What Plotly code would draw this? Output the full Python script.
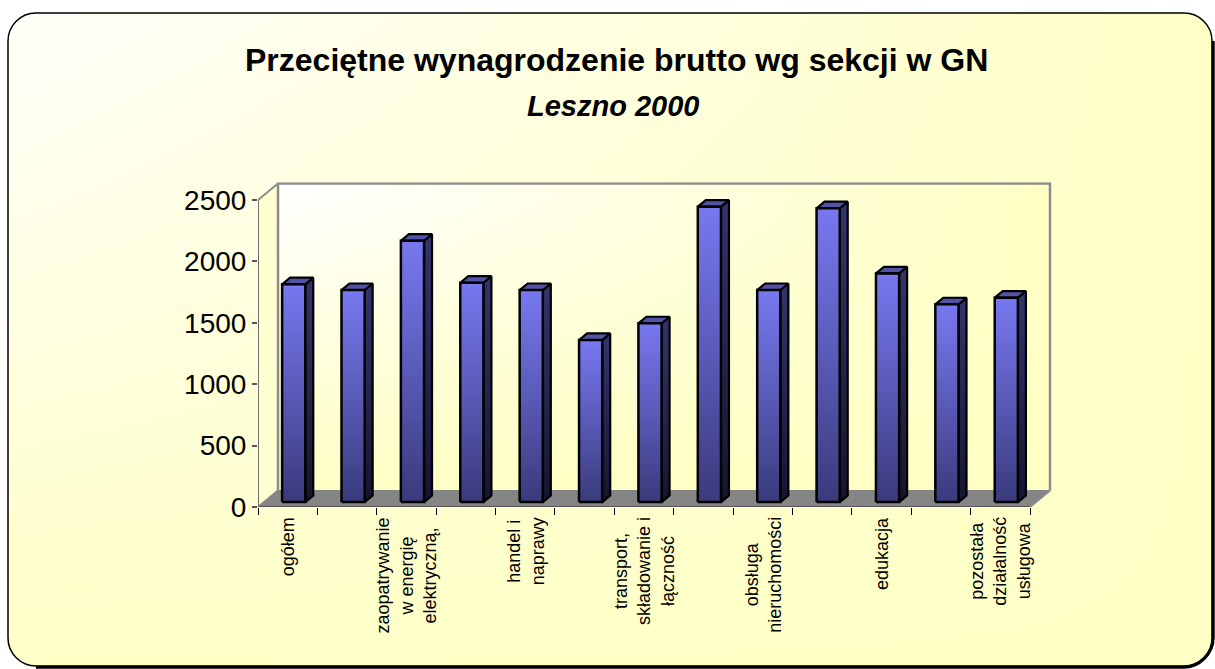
import plotly.graph_objects as go

# ---------------- data ----------------
categories = [
    "ogółem",
    "przetwórstwo przemysłowe",
    "zaopatrywanie w energię elektryczną,",
    "budownictwo",
    "handel i naprawy",
    "hotele i restauracje",
    "transport, składowanie i łączność",
    "pośrednictwo finansowe",
    "obsługa nieruchomości",
    "administracja publiczna",
    "edukacja",
    "ochrona zdrowia",
    "pozostała działalność usługowa",
]
values = [1773, 1726, 2128, 1786, 1726, 1319, 1455, 2405, 1726, 2392, 1862, 1610, 1664]
shown_ticks = [0, 2, 4, 6, 8, 10, 12]
shown_labels = [
    "ogółem",
    "zaopatrywanie<br>w energię<br>elektryczną,",
    "handel i<br>naprawy",
    "transport,<br>składowanie i<br>łączność",
    "obsługa<br>nieruchomości",
    "edukacja",
    "pozostała<br>działalność<br>usługowa",
]
y_ticks = [0, 500, 1000, 1500, 2000, 2500]
title_text = "Przeciętne wynagrodzenie brutto wg sekcji w GN"
subtitle_text = "Leszno 2000"

# ---------------- geometry (styling) ----------------
W, H = 1215, 669          # reference pixel frame
H_RENDER = 685            # capture height observed
FONT = "Liberation Sans, Arial, sans-serif"
n = len(values)
X0PX, PXU = 258.0, 772.0 / 13.0
Y0PX, PYU = 507.0, 307.0 / 2500.0
ddx = 20.0 / PXU
ddy = 16.5 / PYU
xmin, xmax = -0.5, n - 0.5
ymax = 2500

xr_hi = xmax + ddx + 0.05
yr_hi = ymax + ddy + 10
x_dom = [X0PX / W, (X0PX + (xr_hi - xmin) * PXU) / W]
y_dom = [1 - Y0PX / H, 1 - (Y0PX - yr_hi * PYU) / H]

fig = go.Figure()

# background gradient (full chart area)
fig.add_trace(go.Heatmap(
    x=[0, 1], y=[0, 1], z=[[1, 1], [0, 1]], zsmooth="best",
    colorscale=[[0, "#FFFFFA"], [1, "#FFFFC6"]], showscale=False,
    hoverinfo="skip", xaxis="x", yaxis="y"))

# back wall gradient
nx, ny = 80, 40
bx = [xmin + ddx + (xmax - xmin) * k / nx for k in range(nx + 1)]
by = [ddy + ymax * k / ny for k in range(ny + 1)]
bz = []
for j in range(ny):
    v = (j + 0.5) / ny
    row = []
    for i in range(nx):
        u = (i + 0.5) / nx
        row.append(1 - (1 - u) * v)
    bz.append(row)
fig.add_trace(go.Heatmap(
    x=bx, y=by, z=bz, colorscale=[[0, "#FFFFFF"], [1, "#FFFFC4"]],
    showscale=False, hoverinfo="skip", xaxis="x2", yaxis="y2"))

def poly(xs, ys, fill, line_color, lw):
    fig.add_trace(go.Scatter(
        x=xs, y=ys, mode="lines", fill="toself", fillcolor=fill,
        line=dict(color=line_color, width=lw), hoverinfo="skip",
        showlegend=False, xaxis="x2", yaxis="y2"))

def line(xs, ys, color, lw):
    fig.add_trace(go.Scatter(
        x=xs, y=ys, mode="lines", line=dict(color=color, width=lw),
        hoverinfo="skip", showlegend=False, xaxis="x2", yaxis="y2"))

# left wall
poly([xmin, xmin, xmin + ddx, xmin + ddx, xmin],
     [0, ymax, ymax + ddy, ddy, 0], "#FFFFD2", "#8C8C8C", 2)
# floor
poly([xmin, xmax, xmax + ddx, xmin + ddx, xmin],
     [0, 0, ddy, ddy, 0], "#858585", "#858585", 1)
# back wall frame
line([xmin + ddx, xmin + ddx, xmax + ddx, xmax + ddx],
     [ddy, ymax + ddy, ymax + ddy, ddy], "#8C8C8C", 2.5)
line([xmax, xmax + ddx], [0, ddy], "#8C8C8C", 2)

# bars
f0, dd, hw = 0.3, 0.4, 0.195
for i, v in enumerate(values):
    xl = i - hw + f0 * ddx
    xr = i + hw + f0 * ddx
    yb = f0 * ddy
    yt = v + f0 * ddy
    ox, oy = dd * ddx, dd * ddy
    fig.add_trace(go.Scatter(
        x=[xr, xr, xr + ox, xr + ox, xr], y=[yb, yt, yt + oy, yb + oy, yb],
        mode="lines", fill="toself",
        fillgradient=dict(type="vertical",
                          colorscale=[[0, "#15152E"], [1, "#34346E"]]),
        line=dict(color="#000000", width=2.2), hoverinfo="skip",
        showlegend=False, xaxis="x2", yaxis="y2"))
    poly([xl, xr, xr + ox, xl + ox, xl], [yt, yt, yt + oy, yt + oy, yt],
         "#5252A6", "#000000", 2.2)
    fig.add_trace(go.Scatter(
        x=[xl, xr, xr, xl, xl], y=[yb, yb, yt, yt, yb],
        mode="lines", fill="toself",
        fillgradient=dict(type="vertical",
                          colorscale=[[0, "#3A3A7C"], [0.5, "#5A5AB8"], [1, "#7878F0"]]),
        line=dict(color="#000000", width=2.5), hoverinfo="skip",
        showlegend=False, xaxis="x2", yaxis="y2"))

# axis lines
line([xmin, xmin], [0, ymax], "#6E6E6E", 2)
line([xmin, xmax], [0, 0], "#444444", 1.5)

# ---------------- layout ----------------
def px(x):
    return x / W

def py(y):
    return 1 - y / H

def rounded_path(x0, y0, x1, y1, r):
    k = 0.5523
    s = f"M {px(x0 + r)} {py(y0)} L {px(x1 - r)} {py(y0)} "
    s += f"C {px(x1 - r + k * r)} {py(y0)} {px(x1)} {py(y0 + r - k * r)} {px(x1)} {py(y0 + r)} "
    s += f"L {px(x1)} {py(y1 - r)} "
    s += f"C {px(x1)} {py(y1 - r + k * r)} {px(x1 - r + k * r)} {py(y1)} {px(x1 - r)} {py(y1)} "
    s += f"L {px(x0 + r)} {py(y1)} "
    s += f"C {px(x0 + r - k * r)} {py(y1)} {px(x0)} {py(y1 - r + k * r)} {px(x0)} {py(y1 - r)} "
    s += f"L {px(x0)} {py(y0 + r)} "
    s += f"C {px(x0)} {py(y0 + r - k * r)} {px(x0 + r - k * r)} {py(y0)} {px(x0 + r)} {py(y0)} Z"
    return s

def corner_patch(cx, cy, sx, sy, r):
    k = 0.5523
    ax, ay = cx + sx * r, cy
    bx_, by_ = cx, cy + sy * r
    s = f"M {px(cx)} {py(cy)} L {px(ax)} {py(ay)} "
    s += f"C {px(ax - sx * k * r)} {py(ay)} {px(bx_)} {py(by_ - sy * k * r)} {px(bx_)} {py(by_)} Z"
    return s

BX0, BY0, BX1, BY1, R = 8, 13, 1212, 666, 28
shapes = []
for (cx, cy, sx, sy) in [(BX0, BY0, 1, 1), (BX1, BY0, -1, 1), (BX0, BY1, 1, -1), (BX1, BY1, -1, -1)]:
    shapes.append(dict(type="path", xref="paper", yref="paper",
                       path=corner_patch(cx, cy, sx, sy, R),
                       fillcolor="white", line=dict(width=0), layer="above"))
k = 0.5523
sh = f"M {px(BX1 + 1.2)} {py(BY0 + R)} L {px(BX1 + 1.2)} {py(BY1 - R)} "
sh += f"C {px(BX1 + 1.2)} {py(BY1 - R + k * R)} {px(BX1 - R + k * R)} {py(BY1 + 1.2)} {px(BX1 - R)} {py(BY1 + 1.2)} "
sh += f"L {px(BX0 + R)} {py(BY1 + 1.2)}"
shapes.append(dict(type="path", xref="paper", yref="paper", path=sh,
                   line=dict(color="black", width=3), layer="above"))
shapes.append(dict(type="path", xref="paper", yref="paper",
                   path=rounded_path(BX0, BY0, BX1, BY1, R),
                   line=dict(color="black", width=1.5), layer="above"))

annotations = [
    dict(text=f"<b>{title_text}</b>", x=px(616), y=py(60), xref="paper", yref="paper",
         xanchor="center", yanchor="middle", showarrow=False,
         font=dict(family=FONT, size=32, color="black")),
    dict(text=f"<b><i>{subtitle_text}</i></b>", x=px(613), y=py(106), xref="paper", yref="paper",
         xanchor="center", yanchor="middle", showarrow=False,
         font=dict(family=FONT, size=29, color="black")),
]
for t, lab in zip(shown_ticks, shown_labels):
    annotations.append(dict(
        text=lab, x=t, y=py(515), xref="x2", yref="paper",
        xanchor="center", yanchor="top", textangle=-90, align="center",
        showarrow=False, font=dict(family=FONT, size=18, color="black")))

fig.update_layout(
    width=W, height=H_RENDER, autosize=False,
    margin=dict(l=0, r=0, t=0, b=0, pad=0),
    paper_bgcolor="white", plot_bgcolor="rgba(0,0,0,0)",
    showlegend=False,
    xaxis=dict(domain=[px(BX0), px(BX1)], range=[0, 1], visible=False, fixedrange=True),
    yaxis=dict(domain=[py(BY1), py(BY0)], range=[0, 1], visible=False, fixedrange=True),
    xaxis2=dict(domain=x_dom, range=[xmin, xr_hi], anchor="y2",
                showgrid=False, zeroline=False, showline=False,
                tickmode="array", tickvals=[xmin + k2 for k2 in range(n + 1)],
                showticklabels=False,
                ticks="outside", ticklen=7, tickwidth=1, tickcolor="#000000",
                fixedrange=True),
    yaxis2=dict(domain=y_dom, range=[0, yr_hi], anchor="x2",
                showgrid=False, zeroline=False, showline=False,
                tickmode="array", tickvals=y_ticks,
                ticks="outside", ticklen=5, tickwidth=1.5, tickcolor="#555555",
                tickfont=dict(family=FONT, size=28, color="black"),
                fixedrange=True),
    shapes=shapes,
    annotations=annotations,
)

post = (
    "var d=document.getElementById('{plot_id}');"
    "d.style.position='absolute';d.style.left='0px';d.style.top='0px';"
    "document.body.style.margin='0';document.body.style.overflow='hidden';"
    "document.documentElement.style.overflow='hidden';"
)
fig.write_html("out.html", include_plotlyjs=True,
               config={"displayModeBar": False}, post_script=post)
